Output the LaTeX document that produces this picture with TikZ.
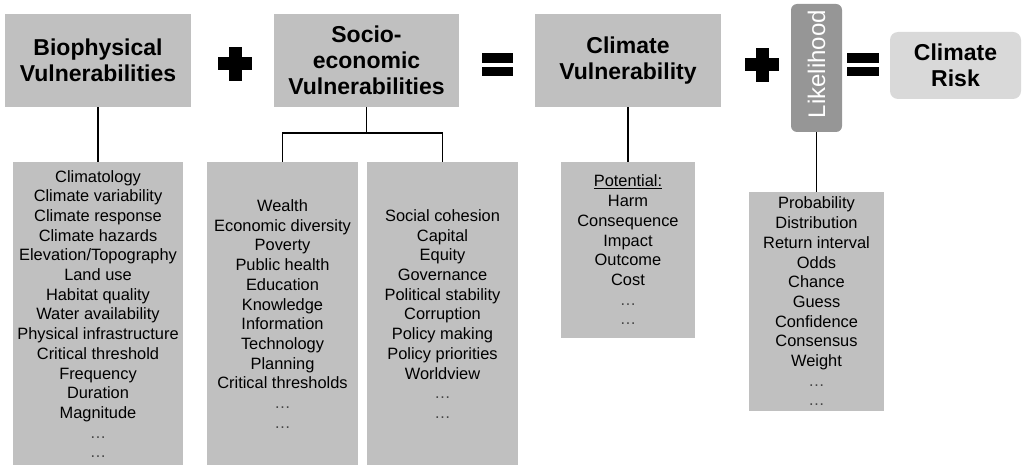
\documentclass[tikz,border=0pt]{standalone}
\usepackage{fontspec}
\setmainfont{Liberation Sans}
\definecolor{boxgrey}{RGB}{192,192,192}
\definecolor{darkgrey}{RGB}{150,150,150}
\definecolor{lightgrey}{RGB}{217,217,217}
\definecolor{dotgrey}{RGB}{70,70,70}
\newcommand{\mydots}{\textcolor{dotgrey}{\dots}}
\begin{document}
\begin{tikzpicture}[x=1pt,y=-1pt,
  head/.style={fill=boxgrey, inner sep=0pt, align=center, font=\bfseries\fontsize{23}{26}\selectfont},
  listbox/.style={fill=boxgrey, inner sep=0pt, align=center, font=\fontsize{16.4}{19.7}\selectfont},
  conn/.style={line width=1.5pt, black},
  op/.style={fill=black}]
\useasboundingbox (0,0) rectangle (1022,465);
% headers
\node[head, minimum width=186pt, minimum height=93pt] (bio) at (98,60.5) {Biophysical\\Vulnerabilities};
\node[head, minimum width=185pt, minimum height=93pt] (soc) at (366.5,60.5) {Socio-\\economic\\Vulnerabilities};
\node[head, minimum width=186pt, minimum height=93pt] (cv) at (628,60.5) {Climate\\Vulnerability};
\node[fill=darkgrey, rounded corners=6pt, minimum width=51pt, minimum height=128pt, inner sep=0pt] (lik) at (816.5,68) {};
\node[rotate=90, text=white, font=\fontsize{24}{28}\selectfont, inner sep=0pt] (liktext) at (816.5,64) {Likelihood};
\node[fill=lightgrey, rounded corners=8pt, minimum width=131pt, minimum height=67pt, inner sep=0pt, align=center, font=\bfseries\fontsize{23}{26}\selectfont] (risk) at (955.5,65.5) {Climate\\Risk};
% operators
\fill[op] (228.5,47) rectangle (241.5,81);
\fill[op] (218,57.5) rectangle (252,70.5);
\fill[op] (482,53.5) rectangle (513,63);
\fill[op] (482,67) rectangle (513,76.5);
\fill[op] (755.5,48) rectangle (768.5,82);
\fill[op] (745,58.5) rectangle (779,71.5);
\fill[op] (847,53.5) rectangle (879,63);
\fill[op] (847,67) rectangle (879,76.5);
% lists
\node[listbox, minimum width=170pt, minimum height=304pt] (biol) at (98,314) {Climatology\\Climate variability\\Climate response\\Climate hazards\\Elevation/Topography\\Land use\\Habitat quality\\Water availability\\Physical infrastructure\\Critical threshold\\Frequency\\Duration\\Magnitude\\\mydots\\\mydots};
\node[listbox, minimum width=151pt, minimum height=304pt] (soc1) at (282.5,314) {Wealth\\Economic diversity\\Poverty\\Public health\\Education\\Knowledge\\Information\\Technology\\Planning\\Critical thresholds\\\mydots\\\mydots};
\node[listbox, minimum width=151pt, minimum height=304pt] (soc2) at (442.5,314) {Social cohesion\\Capital\\Equity\\Governance\\Political stability\\Corruption\\Policy making\\Policy priorities\\Worldview\\\mydots\\\mydots};
\node[listbox, minimum width=134pt, minimum height=176pt] (pot) at (628,250) {\underline{Potential:}\\Harm\\Consequence\\Impact\\Outcome\\Cost\\\mydots\\\mydots};
\node[listbox, minimum width=135pt, minimum height=219pt] (likl) at (816.5,301.5) {Probability\\Distribution\\Return interval\\Odds\\Chance\\Guess\\Confidence\\Consensus\\Weight\\\mydots\\\mydots};
% connectors
\coordinate (sj) at (366.5,133);
\draw[conn] (bio.south) -- (biol.north);
\draw[conn] (soc.south) -- (sj);
\draw[conn] (soc1.north) |- (sj) -| (soc2.north);
\draw[conn] (cv.south) -- (pot.north);
\draw[conn] (lik.south) -- (likl.north);
\end{tikzpicture}
\end{document}
